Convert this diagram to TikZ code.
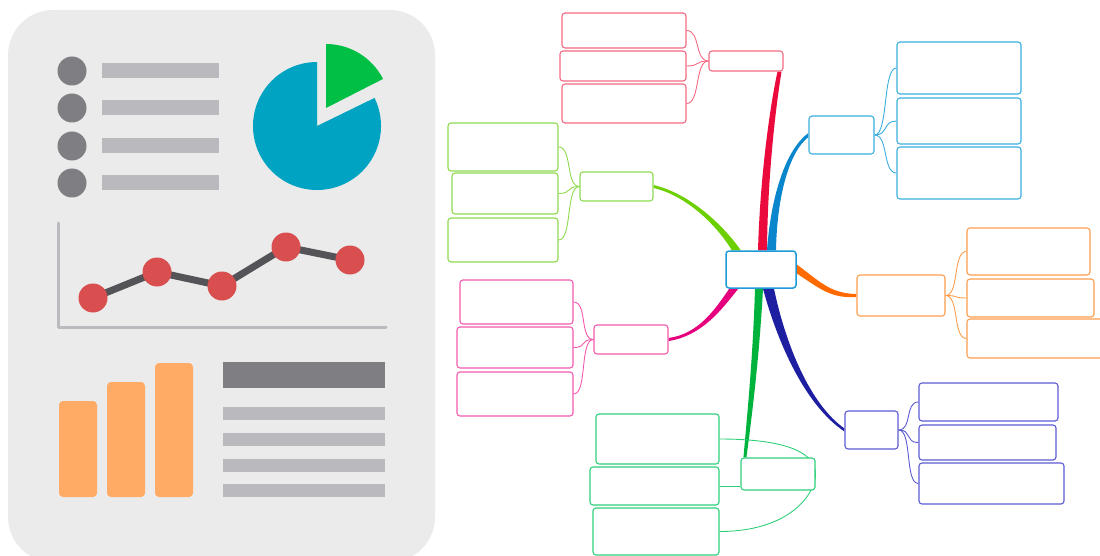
\documentclass[tikz,border=0pt]{standalone}
\usetikzlibrary{calc,fit,backgrounds}
\definecolor{panel}{HTML}{EBEBEB}
\definecolor{dots}{HTML}{7F7E83}
\definecolor{bar}{HTML}{B9B9BE}
\definecolor{pieb}{HTML}{00A3C2}
\definecolor{pieg}{HTML}{00BF45}
\definecolor{axis}{HTML}{BBBBBF}
\definecolor{linec}{HTML}{545458}
\definecolor{dot}{HTML}{D94F4F}
\definecolor{obar}{HTML}{FFAB66}
\definecolor{ctrc}{HTML}{1E9AD6}
\definecolor{redc}{HTML}{F46A82}
\definecolor{redb}{HTML}{EB0A3C}
\definecolor{bluc}{HTML}{3AAEE0}
\definecolor{blub}{HTML}{0A87CC}
\definecolor{limc}{HTML}{8FDA4E}
\definecolor{limb}{HTML}{6CD000}
\definecolor{pnkc}{HTML}{F25AAE}
\definecolor{pnkb}{HTML}{E5007E}
\definecolor{grnc}{HTML}{2FCF7A}
\definecolor{grnb}{HTML}{00B33C}
\definecolor{orgc}{HTML}{FF9D4D}
\definecolor{orgb}{HTML}{FF6A00}
\definecolor{purc}{HTML}{5B5BD3}
\definecolor{purb}{HTML}{1E1EA0}
% #2 start, #3 #4 controls, #5 end, #6 #7 width at start and end
\newcommand\branch[7]{\fill[#1] ($#2-0.5*#6$) .. controls ($#3-0.3333*#6-0.1667*#7$) and ($#4-0.1667*#6-0.3333*#7$) .. ($#5-0.5*#7$) -- ($#5+0.5*#7$) .. controls ($#4+0.1667*#6+0.3333*#7$) and ($#3+0.3333*#6+0.1667*#7$) .. ($#2+0.5*#6$) -- cycle;}
\begin{document}
\begin{tikzpicture}[x=1pt,y=-1pt, line join=round, line cap=round,
	box/.style={draw=#1, rounded corners=3pt, line width=1.1pt, fill=white, inner sep=0pt},
	twig/.style={draw=#1, line width=0.9pt}]
	\useasboundingbox (0,0) rectangle (1100,556);
	\fill[panel, rounded corners=45pt] (8,10) rectangle (435,562);
	\foreach \y in {71,108,146,183} {
		\fill[dots] (72,\y) circle (14.5);
		\fill[bar] (102,\y-7.5) rectangle (219,\y+7.5);
	}
	\fill[pieb] (317,126) -- +(-26:64) arc[start angle=-26, end angle=270, radius=64] -- cycle;
	\fill[pieg] (326,108) -- +(-90:64) arc[start angle=-90, end angle=-27, radius=64] -- cycle;
	\draw[axis, line width=3pt] (58,223) -- (58,327) -- (386,327);
	\draw[linec, line width=7pt] (93,298) -- (157,272) -- (222,286) -- (286,247) -- (350,260);
	\foreach \p in {(93,298),(157,272),(222,286),(286,247),(350,260)} \fill[dot] \p circle (14.5);
	\fill[obar, rounded corners=4pt] (59,401) rectangle (97,497);
	\fill[obar, rounded corners=4pt] (107,382) rectangle (145,497);
	\fill[obar, rounded corners=4pt] (155,363) rectangle (193,497);
	\fill[dots] (223,362) rectangle (385,388);
	\foreach \y in {407,433,459,484} \fill[bar] (223,\y) rectangle (385,\y+13);

	\node[box=ctrc, line width=1.5pt, fit={(726,251) (796,288)}] (ctr) {};
	\node[box=redc, fit={(709,51) (783,71)}] (rd) {};
	\node[box=redc, fit={(562,13) (686,48)}] (rd1) {};
	\node[box=redc, fit={(560,51) (686,81)}] (rd2) {};
	\node[box=redc, fit={(562,84) (686,123)}] (rd3) {};
	\node[box=bluc, fit={(809,116) (874,154)}] (bl) {};
	\node[box=bluc, fit={(897,42) (1021,94)}] (bl1) {};
	\node[box=bluc, fit={(897,98) (1021,144)}] (bl2) {};
	\node[box=bluc, fit={(897,147) (1021,199)}] (bl3) {};
	\node[box=limc, fit={(580,172) (653,201)}] (lm) {};
	\node[box=limc, fit={(448,123) (558,171)}] (lm1) {};
	\node[box=limc, fit={(452,173) (558,214)}] (lm2) {};
	\node[box=limc, fit={(448,218) (558,262)}] (lm3) {};
	\node[box=pnkc, fit={(594,325) (668,354)}] (pk) {};
	\node[box=pnkc, fit={(460,280) (573,324)}] (pk1) {};
	\node[box=pnkc, fit={(457,327) (573,368)}] (pk2) {};
	\node[box=pnkc, fit={(457,372) (573,416)}] (pk3) {};
	\node[box=grnc, fit={(741,458) (815,490)}] (gr) {};
	\node[box=grnc, fit={(596,414) (719,464)}] (gr1) {};
	\node[box=grnc, fit={(590,467) (719,505)}] (gr2) {};
	\node[box=grnc, fit={(593,508) (719,555)}] (gr3) {};
	\node[box=orgc, fit={(857,275) (945,316)}] (or) {};
	\node[box=orgc, fit={(967,228) (1090,275)}] (or1) {};
	\node[box=orgc, fit={(967,279) (1094,317)}] (or2) {};
	\node[box=orgc, fit={(967,319) (1112,358)}] (or3) {};
	\node[box=purc, fit={(845,411) (898,449)}] (pu) {};
	\node[box=purc, fit={(919,383) (1058,421)}] (pu1) {};
	\node[box=purc, fit={(919,425) (1056,460)}] (pu2) {};
	\node[box=purc, fit={(919,463) (1064,504)}] (pu3) {};

	\begin{scope}[on background layer]
		\branch{redb}{(ctr.north)+(1.5,0)}{(764,170)}{(774,100)}{(rd.south east)+(-4,0)}{(9,0)}{(4,0)}
		\branch{blub}{(ctr.north)+(10.5,0)}{(774,195)}{(788,150)}{(bl.west)}{(9,0)}{(0,4)}
		\branch{limb}{(ctr.north west)+(11,0)}{(722,228)}{(690,195)}{(lm.east)}{(9,0)}{(0,-3)}
		\branch{pnkb}{(ctr.south west)+(8.5,0)}{(718,310)}{(700,335)}{(pk.east)}{(9,0)}{(0,3)}
		\branch{grnb}{(ctr.south)+(-2,0)}{(756,360)}{(749,420)}{(gr.north west)+(4.5,0)}{(8,0)}{(3,0)}
		\branch{purb}{(ctr.south)+(7.5,0)}{(782,345)}{(808,405)}{(pu.west)}{(11,0)}{(0,-3)}
		\branch{orgb}{(ctr.east)+(0,-0.5)}{(820,285)}{(830,296)}{(or.west)}{(0,9)}{(0,3)}
		\foreach \c in {rd1,rd2,rd3} \draw[twig=redc] (rd.west) .. controls +(-14,0) and +(14,0) .. (\c.east);
		\foreach \c in {lm1,lm2,lm3} \draw[twig=limc] (lm.west) .. controls +(-14,0) and +(14,0) .. (\c.east);
		\foreach \c in {pk1,pk2,pk3} \draw[twig=pnkc] (pk.west) .. controls +(-14,0) and +(14,0) .. (\c.east);
		\foreach \c in {bl1,bl2,bl3} \draw[twig=bluc] (bl.east) .. controls +(14,0) and +(-14,0) .. (\c.west);
		\foreach \c in {or1,or2,or3} \draw[twig=orgc] (or.east) .. controls +(14,0) and +(-14,0) .. (\c.west);
		\foreach \c in {pu1,pu2,pu3} \draw[twig=purc] (pu.east) .. controls +(14,0) and +(-14,0) .. (\c.west);
		\draw[twig=grnc] (gr1.east) .. controls +(70,0) and +(0,-20) .. (gr.east);
		\draw[twig=grnc] (gr3.east) .. controls +(70,0) and +(0,20) .. (gr.east);
		\draw[twig=grnc] (gr2.east) -- (gr2.east -| gr.west);
	\end{scope}
\end{tikzpicture}
\end{document}
